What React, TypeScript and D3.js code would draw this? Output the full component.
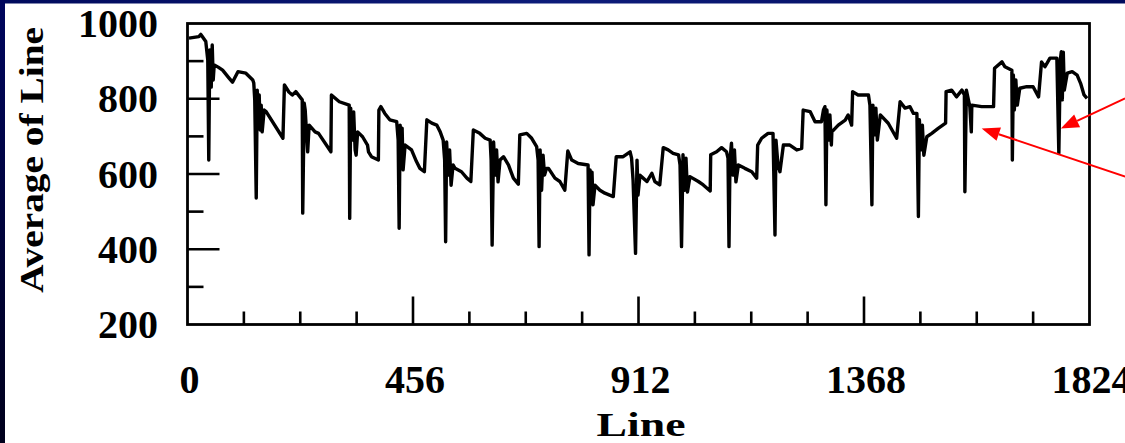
import React from "react";
import * as d3 from "d3";

// Average of Line, sampled at the vertices of the trace: [line index, average]
const AVG_BY_LINE: [number, number][] = [
  [3, 961], [23, 965], [27, 971], [37, 952], [41, 903], [43, 637], [45, 930], [48, 831], [50, 943], [52, 850],
  [54, 890], [62, 884], [71, 876], [84, 855], [91, 844], [102, 872], [118, 868], [132, 850], [134, 842], [136, 797],
  [139, 536], [141, 823], [143, 730], [145, 810], [147, 717], [149, 783], [151, 712], [155, 770], [159, 766], [193, 695],
  [196, 837], [205, 818], [212, 810], [219, 819], [232, 797], [233, 496], [236, 788], [238, 770], [243, 659], [246, 730],
  [258, 712], [265, 708], [290, 659], [291, 810], [307, 792], [327, 783], [328, 482], [330, 775], [333, 690], [336, 765],
  [339, 664], [341, 650], [344, 712], [354, 699], [364, 677], [366, 659], [372, 646], [386, 637], [387, 770], [391, 779],
  [399, 761], [409, 744], [423, 739], [426, 690], [428, 456], [430, 730], [432, 637], [434, 722], [436, 611], [440, 677],
  [453, 664], [463, 633], [470, 615], [479, 606], [484, 744], [494, 735], [504, 730], [511, 712], [517, 690], [520, 637],
  [522, 420], [524, 685], [527, 597], [530, 664], [533, 570], [537, 624], [541, 615], [554, 606], [565, 589], [573, 580],
  [578, 717], [591, 708], [602, 695], [612, 690], [614, 637], [616, 411], [619, 685], [622, 597], [625, 664], [628, 579],
  [632, 637], [639, 646], [649, 624], [659, 589], [669, 573], [672, 704], [686, 708], [696, 695], [706, 673], [709, 637],
  [711, 407], [713, 664], [716, 557], [719, 650], [722, 597], [726, 615], [730, 615], [743, 589], [753, 580], [763, 557],
  [769, 661], [777, 637], [790, 628], [810, 624], [812, 385], [814, 611], [816, 531], [818, 605], [820, 518], [824, 570],
  [834, 557], [844, 549], [861, 540], [867, 646], [881, 646], [895, 659], [898, 642], [901, 584], [906, 389], [909, 637],
  [911, 544], [915, 597], [918, 593], [929, 580], [939, 602], [945, 580], [955, 571], [962, 670], [972, 664], [982, 655],
  [993, 651], [996, 624], [999, 407], [1002, 651], [1005, 557], [1008, 642], [1011, 552], [1016, 593], [1033, 580], [1043, 571],
  [1057, 555], [1058, 651], [1070, 659], [1080, 670], [1090, 659], [1093, 642], [1095, 407], [1097, 637], [1100, 682], [1103, 597],
  [1106, 664], [1109, 579], [1114, 624], [1127, 615], [1141, 606], [1151, 589], [1153, 677], [1161, 695], [1174, 708], [1184, 708],
  [1188, 438], [1190, 690], [1194, 624], [1198, 606], [1205, 677], [1218, 677], [1232, 664], [1242, 668], [1245, 770], [1259, 766],
  [1269, 739], [1282, 739], [1286, 770], [1289, 779], [1291, 518], [1293, 770], [1296, 690], [1299, 757], [1302, 677], [1303, 712],
  [1316, 730], [1330, 743], [1336, 757], [1343, 730], [1345, 819], [1356, 810], [1377, 810], [1380, 783], [1384, 518], [1386, 783],
  [1389, 704], [1392, 775], [1395, 690], [1401, 757], [1417, 735], [1434, 695], [1441, 792], [1451, 775], [1461, 779], [1468, 761],
  [1475, 761], [1478, 487], [1480, 744], [1483, 664], [1486, 730], [1489, 650], [1495, 699], [1505, 708], [1518, 721], [1533, 735],
  [1534, 819], [1545, 823], [1555, 805], [1566, 823], [1571, 810], [1572, 553], [1575, 823], [1582, 779], [1585, 712], [1586, 783],
  [1606, 779], [1630, 779], [1632, 881], [1647, 898], [1653, 885], [1667, 876], [1668, 637], [1670, 863], [1672, 770], [1675, 850],
  [1678, 783], [1683, 828], [1697, 832], [1710, 832], [1721, 805], [1727, 898], [1734, 885], [1744, 908], [1758, 908], [1762, 655],
  [1765, 903], [1767, 925], [1769, 797], [1771, 924], [1773, 823], [1779, 868], [1789, 872], [1799, 863], [1806, 841], [1813, 810],
  [1819, 801],
];

const X_LABELS = [0, 456, 912, 1368, 1824];
const X_MINOR = [114, 228, 342, 570, 684, 798, 1026, 1140, 1254, 1482, 1596, 1710];
const Y_LABELS = [200, 400, 600, 800, 1000];
const Y_MAJOR = [400, 600, 800];
const Y_MINOR = [300, 500, 700, 900];

// Callout arrows: [tail line, tail avg, tip line, tip avg]
const CALLOUTS: [number, number, number, number][] = [
  [1896, 801, 1766, 721],
  [1896, 593, 1606, 721],
];

const W = 1125;
const H = 443;
const FONT = '"Liberation Serif", "Times New Roman", serif';

export default function App() {
  const x = d3.scaleLinear().domain([0, 1824]).range([187.5, 1089.5]);
  const y = d3.scaleLinear().domain([200, 1000]).range([324.5, 23.5]);

  const line = d3
    .line<[number, number]>()
    .x((d) => x(d[0]))
    .y((d) => y(d[1]));

  const arrowHead = (x1: number, y1: number, x2: number, y2: number) => {
    const dx = x2 - x1;
    const dy = y2 - y1;
    const len = Math.hypot(dx, dy);
    const ux = dx / len;
    const uy = dy / len;
    const hl = 18;
    const hw = 7;
    const bx = x2 - ux * hl;
    const by = y2 - uy * hl;
    return {
      pts: `${x2},${y2} ${bx - uy * hw},${by + ux * hw} ${bx + uy * hw},${by - ux * hw}`,
      bx,
      by,
    };
  };

  return (
    <svg
      width={W}
      height={H}
      style={{ position: "absolute", left: 0, top: 0, background: "#fff" }}
      fontFamily={FONT}
      fontWeight="bold"
    >
      <defs>
        <linearGradient id="leftBand" x1="0" y1="0" x2="0" y2="1">
          <stop offset="0" stopColor="#00065e" />
          <stop offset="1" stopColor="#00001c" />
        </linearGradient>
        <linearGradient id="topBand" x1="0" y1="0" x2="1" y2="0">
          <stop offset="0" stopColor="#000a5c" />
          <stop offset="0.5" stopColor="#0d1c7a" />
          <stop offset="1" stopColor="#000a5c" />
        </linearGradient>
      </defs>
      <rect x={0} y={0} width={W} height={H} fill="#fff" />
      <rect x={0} y={0} width={W} height={3.5} fill="url(#topBand)" />
      <rect x={0} y={0} width={5} height={H} fill="url(#leftBand)" />

      {/* y ticks, drawn inward from the left axis */}
      {Y_MAJOR.map((v) => (
        <line key={`ym${v}`} x1={x(0)} x2={x(0) + 32} y1={y(v)} y2={y(v)} stroke="#000" strokeWidth={2.6} />
      ))}
      {Y_MINOR.map((v) => (
        <line key={`yn${v}`} x1={x(0)} x2={x(0) + 16} y1={y(v)} y2={y(v)} stroke="#000" strokeWidth={2.6} />
      ))}
      {/* x ticks, drawn upward from the bottom axis */}
      {X_LABELS.slice(1, -1).map((v) => (
        <line key={`xm${v}`} x1={x(v)} x2={x(v)} y1={y(200)} y2={y(200) - 28} stroke="#000" strokeWidth={2.6} />
      ))}
      {X_MINOR.map((v) => (
        <line key={`xn${v}`} x1={x(v)} x2={x(v)} y1={y(200)} y2={y(200) - 13} stroke="#000" strokeWidth={2.6} />
      ))}

      <path d={line(AVG_BY_LINE) ?? ""} fill="none" stroke="#000" strokeWidth={3.4} strokeLinejoin="round" />

      {/* plot frame */}
      <rect
        x={x(0)}
        y={y(1000)}
        width={x(1824) - x(0)}
        height={y(200) - y(1000)}
        fill="none"
        stroke="#000"
        strokeWidth={2.8}
      />

      {Y_LABELS.map((v) => (
        <text key={`yl${v}`} x={158} y={y(v) + 13.5} fontSize={40} textAnchor="end" fill="#000">
          {v}
        </text>
      ))}
      {X_LABELS.map((v) => (
        <text key={`xl${v}`} x={x(v) + 2} y={393} fontSize={40} textAnchor="middle" fill="#000">
          {v}
        </text>
      ))}

      <text x={641} y={436} fontSize={33} textAnchor="middle" textLength={89} lengthAdjust="spacingAndGlyphs" fill="#000">
        Line
      </text>
      <text
        transform={`translate(43,160) rotate(-90)`}
        fontSize={33}
        textAnchor="middle"
        textLength={266}
        lengthAdjust="spacingAndGlyphs"
        fill="#000"
      >
        Average of Line
      </text>

      {CALLOUTS.map(([a, b, c, d], i) => {
        const x1 = x(a);
        const y1 = y(b);
        const x2 = x(c);
        const y2 = y(d);
        const h = arrowHead(x1, y1, x2, y2);
        return (
          <g key={`co${i}`}>
            <line x1={x1} y1={y1} x2={h.bx} y2={h.by} stroke="#ff0000" strokeWidth={2} />
            <polygon points={h.pts} fill="#ff0000" />
          </g>
        );
      })}
    </svg>
  );
}
